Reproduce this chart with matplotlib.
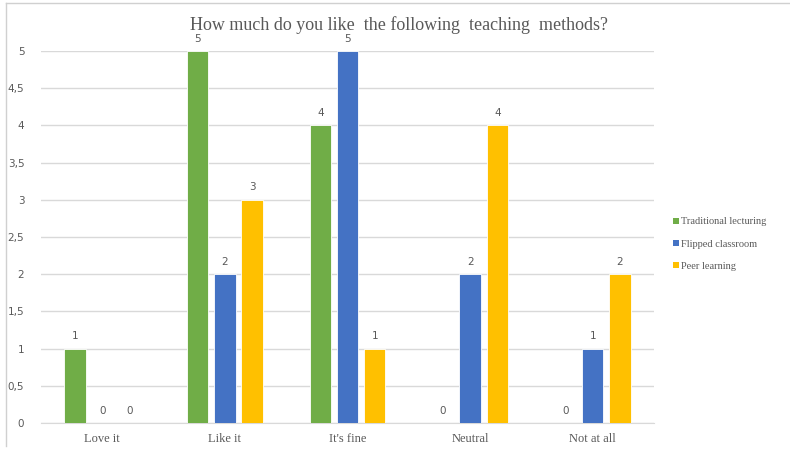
import numpy as np
import matplotlib.pyplot as plt
from matplotlib.lines import Line2D
from matplotlib.patches import Patch
from matplotlib.ticker import FuncFormatter

categories = ["Love it", "Like it", "It's fine", "Neutral", "Not at all"]
traditional = [1, 5, 4, 0, 0]
flipped = [0, 2, 5, 2, 1]
peer = [0, 3, 1, 4, 2]
series_names = ["Traditional lecturing", "Flipped classroom", "Peer learning"]
colors = ["#70AD47", "#4472C4", "#FFC000"]

text_gray = "#595959"
serif = ["Liberation Serif", "DejaVu Serif"]

fig = plt.figure(figsize=(7.9, 4.5), dpi=100)
ax = fig.add_axes([41 / 790, 27 / 450, 613 / 790, 372 / 450])

x = np.arange(len(categories))
width = 0.175
offsets = [-0.222, 0, 0.222]
for vals, off, col in zip([traditional, flipped, peer], offsets, colors):
    bars = ax.bar(x + off, vals, width, color=col, edgecolor="white",
                  linewidth=0.6, zorder=3)
    for b, v in zip(bars, vals):
        ax.text(b.get_x() + b.get_width() / 2, v + 0.1, str(v),
                ha="center", va="bottom", fontsize=7.5, color=text_gray)

ax.set_xlim(-0.5, len(categories) - 0.5)
ax.set_ylim(0, 5)
ax.set_yticks(np.arange(0, 5.01, 0.5))
ax.yaxis.set_major_formatter(
    FuncFormatter(lambda v, p: f"{v:g}".replace(".", ",")))
ax.grid(axis="y", color="#D9D9D9", linewidth=1, zorder=0)
for s in ["top", "right", "left"]:
    ax.spines[s].set_visible(False)
ax.spines["bottom"].set_color("#D9D9D9")
ax.tick_params(axis="both", length=0)
ax.tick_params(axis="y", labelsize=7.5, labelcolor=text_gray, pad=12)
ax.set_xticks(x)
ax.set_xticklabels(categories, fontfamily=serif, fontsize=9,
                   color=text_gray)
ax.tick_params(axis="x", pad=7)

fig.text(0.505, 1 - 25 / 450,
         "How much do you like  the following  teaching  methods?",
         ha="center", va="center", fontsize=13, color=text_gray,
         fontfamily=serif)

handles = [Patch(facecolor=c, edgecolor="none") for c in colors]
leg = fig.legend(handles, series_names, loc="center left",
                 bbox_to_anchor=(664 / 790, 1 - 244 / 450), frameon=False,
                 prop={"family": serif, "size": 7.5}, labelcolor=text_gray,
                 handlelength=0.55, handleheight=0.55, handletextpad=0.2,
                 labelspacing=1.25)

# thin frame on the left and top edges
fig.add_artist(Line2D([6 / 790, 6 / 790], [1 - 3 / 450, 1 - 446 / 450],
                      transform=fig.transFigure, color="#D0D0D0", lw=1))
fig.add_artist(Line2D([6 / 790, 1], [1 - 3 / 450, 1 - 3 / 450],
                      transform=fig.transFigure, color="#D0D0D0", lw=1))

fig.savefig("out.png", dpi=100)
plt.close()
